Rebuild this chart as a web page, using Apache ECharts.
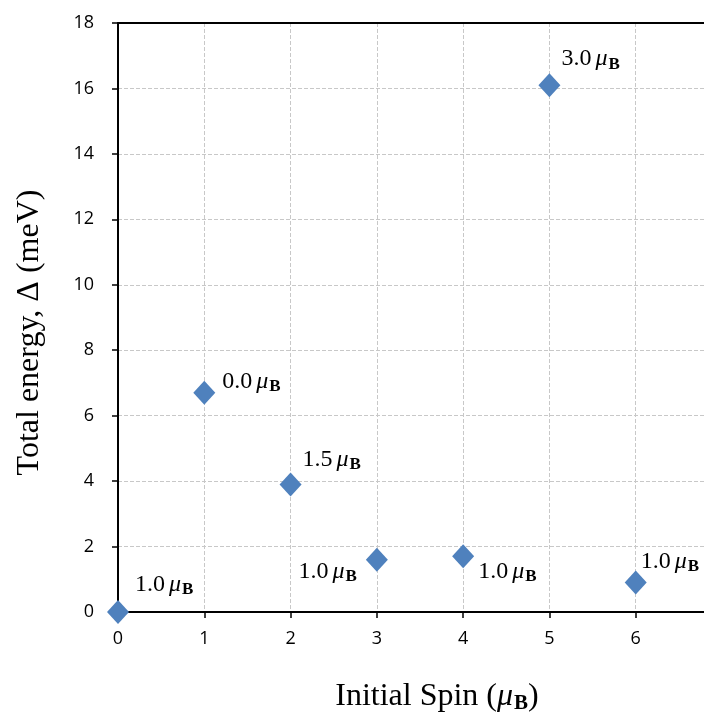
<!DOCTYPE html>
<html><head><meta charset="utf-8">
<script src="https://cdn.jsdelivr.net/npm/echarts@6/dist/echarts.min.js"></script>
<style>html,body{margin:0;padding:0;background:#fff}#c{width:704px;height:720px}</style>
</head><body><div id="c"></div>
<script>
const initialSpin = [0, 1, 2, 3, 4, 5, 6];
const totalEnergy = [0, 6.7, 3.9, 1.6, 1.7, 16.1, 0.9];
const finalSpin = ['1.0', '0.0', '1.5', '1.0', '1.0', '3.0', '1.0'];
// label placement (style only): alignment and offset from the marker centre
const labelAlign = ['left', 'left', 'left', 'right', 'left', 'left', 'left'];
const labelOff = [[17, -27], [18, -11], [12, -25], [-20, 12], [15, 15], [12, -26], [5, -21]];

const serif = '"Liberation Serif", "Times New Roman", serif';
const sans = '"Open Sans", "Noto Sans", sans-serif';
const rich = {
  n: {fontFamily: serif, fontSize: 24, color: '#000', lineHeight: 26, verticalAlign: 'middle'},
  mu: {fontFamily: serif, fontSize: 24, fontStyle: 'italic', color: '#000', padding: [0, 0, 0, 4], lineHeight: 26, verticalAlign: 'middle'},
  b: {fontFamily: serif, fontSize: 17, fontWeight: 'bold', color: '#000', padding: [10, 0, 0, 1], lineHeight: 17}
};
const data = initialSpin.map((x, i) => ({
  value: [x, totalEnergy[i]],
  label: {
    show: true,
    position: 'inside',
    align: labelAlign[i],
    verticalAlign: 'middle',
    offset: labelOff[i],
    formatter: '{n|' + finalSpin[i] + '}{mu|μ}{b|B}',
    rich: rich
  }
}));

const gridLine = {color: '#c8c8c8', type: 'dashed', width: 1};
const chart = echarts.init(document.getElementById('c'), null, {renderer: 'canvas'});
chart.setOption({
  animation: false,
  backgroundColor: '#fff',
  grid: {left: 118, top: 23, height: 589, width: 604, containLabel: false, outerBoundsMode: 'none', show: false},
  xAxis: [{
    type: 'value', min: 0, max: 7, interval: 1,
    name: '{t|Initial Spin (}{mu|μ}{b|B}{t|)}',
    nameLocation: 'middle', nameGap: 68,
    nameTextStyle: {padding: [0, 0, 0, 34], rich: {
      t: {fontFamily: serif, fontSize: 32, color: '#000', lineHeight: 34, verticalAlign: 'middle'},
      mu: {fontFamily: serif, fontSize: 32, fontStyle: 'italic', color: '#000', lineHeight: 34, verticalAlign: 'middle'},
      b: {fontFamily: serif, fontSize: 21, fontWeight: 'bold', color: '#000', padding: [14, 0, 0, 1], lineHeight: 21}
    }},
    axisLine: {show: true, lineStyle: {color: '#000', width: 2}},
    axisTick: {show: true, inside: false, length: 6, lineStyle: {color: '#000', width: 1.5}},
    axisLabel: {color: '#000', fontSize: 18, fontFamily: sans, margin: 18},
    splitLine: {show: true, showMinLine: false, showMaxLine: false, lineStyle: gridLine}
  }, {
    type: 'value', position: 'top', min: 0, max: 7, interval: 1,
    axisLine: {show: true, onZero: false, lineStyle: {color: '#000', width: 2}},
    axisTick: {show: false}, axisLabel: {show: false}, splitLine: {show: false},
    z: 4
  }],
  yAxis: {
    type: 'value', min: 0, max: 18, interval: 2,
    name: 'Total energy, Δ (meV)',
    nameLocation: 'middle', nameGap: 72, nameRotate: 90,
    nameTextStyle: {fontFamily: serif, fontSize: 32, color: '#000', padding: [0, 30, 0, 0]},
    axisLine: {show: true, lineStyle: {color: '#000', width: 2}},
    axisTick: {show: true, inside: false, length: 6, lineStyle: {color: '#000', width: 1.5}},
    axisLabel: {color: '#000', fontSize: 18, fontFamily: sans, margin: 24},
    splitLine: {show: true, showMinLine: false, showMaxLine: false, lineStyle: gridLine}
  },
  series: [{
    type: 'scatter',
    data: data,
    symbol: 'diamond',
    symbolSize: [22, 24],
    itemStyle: {color: '#4F81BD', opacity: 1},
    clip: false,
    z: 5
  }]
});
</script>
</body></html>
